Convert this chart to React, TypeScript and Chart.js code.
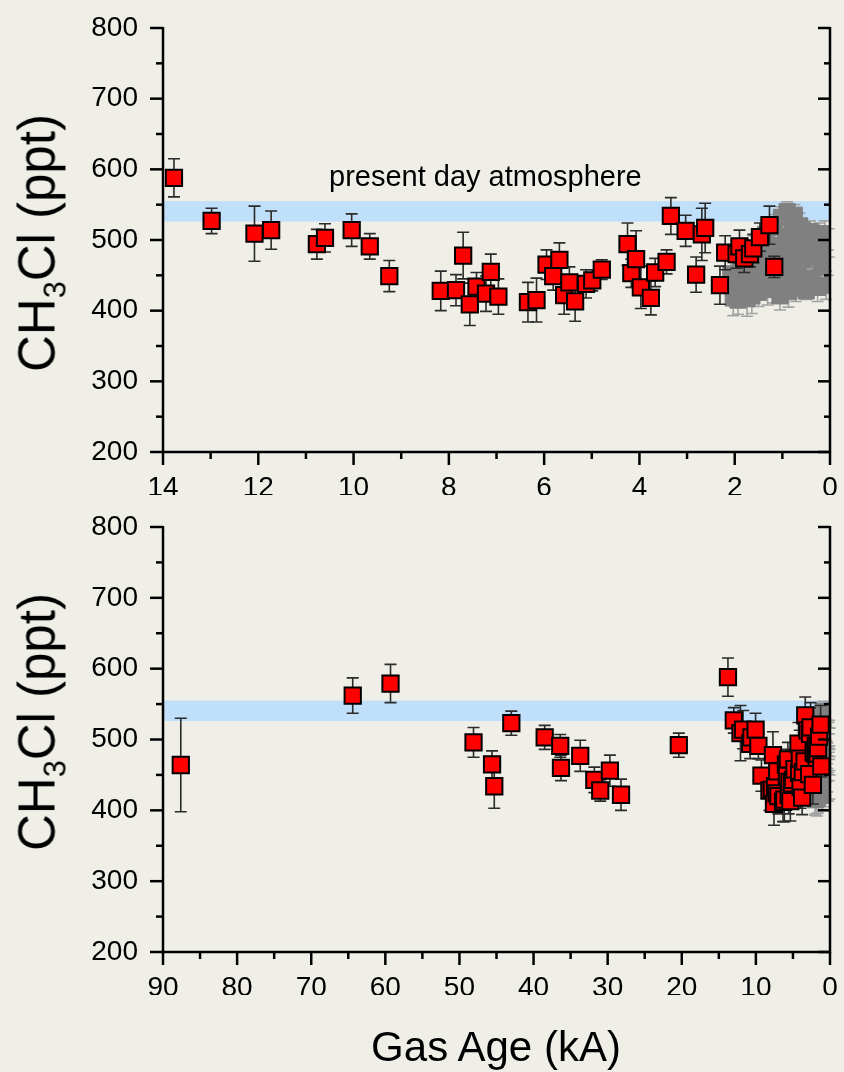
import React, { useEffect, useRef } from "react";
import { Chart, registerables } from "chart.js";

Chart.register(...registerables);

const FONT = '"Liberation Sans", Arial, Helvetica, sans-serif';
const BG = "#f0efe7";
const BAND_COLOR = "#c0dffa";

// Holocene samples (red), gas age in kA
const youngAge = [13.77, 12.98, 12.08, 11.73, 10.77, 10.6, 10.04, 9.66, 9.25, 8.17, 7.85, 7.7, 7.56, 7.42, 7.22, 7.12, 6.96, 6.34, 6.16, 5.95, 5.81, 5.68, 5.58, 5.47, 5.35, 5.12, 4.99, 4.79, 4.25, 4.17, 4.07, 3.97, 3.76, 3.67, 3.43, 3.34, 3.03, 2.81, 2.69, 2.62, 2.31, 2.2, 1.96, 1.9, 1.8, 1.68, 1.61, 1.47, 1.27, 1.17];
const youngCH3Cl = [588, 527, 509, 514, 494, 503, 514, 491, 449, 428, 429, 478, 409, 434, 424, 455, 420, 412, 415, 465, 449, 472, 422, 440, 413, 438, 443, 458, 494, 453, 473, 433, 418, 454, 469, 534, 513, 451, 508, 517, 436, 482, 480, 491, 474, 480, 488, 504, 521, 462];
const youngErr = [27, 18, 39, 27, 21, 20, 23, 18, 22, 28, 22, 33, 30, 20, 25, 25, 25, 28, 31, 21, 20, 24, 27, 22, 28, 20, 15, 14, 30, 20, 40, 30, 24, 20, 17, 26, 22, 25, 37, 35, 27, 24, 20, 23, 20, 18, 20, 20, 27, 15];

// Glacial samples (red)
const oldAge = [87.6, 64.4, 59.3, 48.1, 45.6, 43.0, 45.3, 38.5, 36.4, 36.3, 33.7, 31.8, 31.0, 29.7, 28.2, 20.4];
const oldCH3Cl = [464, 562, 579, 496, 465, 523, 434, 503, 491, 460, 477, 443, 428, 456, 422, 492];
const oldErr = [66, 25, 27, 21, 19, 17, 31, 17, 16, 18, 22, 18, 15, 22, 22, 17];

// Late Holocene samples (grey)
const grayAge = [2.08, 2.03, 1.99, 1.93, 1.88, 1.84, 1.79, 1.74, 1.7, 1.64, 1.61, 1.57, 1.55, 1.5, 1.46, 1.42, 1.4, 1.35, 1.31, 1.28, 1.24, 1.2, 1.16, 1.12, 1.1, 1.05, 1.02, 0.98, 0.96, 0.93, 0.9, 0.87, 0.84, 0.82, 0.79, 0.75, 0.72, 0.69, 0.66, 0.64, 0.6, 0.58, 0.55, 0.53, 0.5, 0.42, 0.38, 0.35, 0.31, 0.26, 0.22, 0.18, 0.15, 0.11, 0.08, 0.05, 0.03];
const grayCH3Cl = [452, 418, 440, 415, 462, 436, 447, 417, 470, 421, 486, 443, 466, 426, 452, 493, 474, 508, 430, 481, 457, 433, 518, 462, 492, 421, 532, 447, 476, 505, 540, 427, 484, 456, 518, 535, 433, 493, 462, 520, 441, 514, 472, 500, 428, 512, 446, 477, 497, 433, 506, 462, 490, 509, 436, 468, 496];
const grayErr = [22, 25, 20, 20, 40, 22, 20, 25, 18, 25, 20, 22, 18, 20, 22, 18, 20, 20, 22, 18, 20, 22, 18, 20, 18, 20, 15, 22, 18, 20, 14, 22, 18, 20, 18, 15, 20, 18, 22, 18, 20, 15, 18, 20, 12, 15, 20, 18, 20, 20, 18, 20, 18, 18, 20, 18, 20];

// present day atmosphere range (ppt)
const bandLow = 526;
const bandHigh = 555;

const yTickValues = [200, 300, 400, 500, 600, 700, 800];
const topXTickValues = [14, 12, 10, 8, 6, 4, 2, 0];
const bottomXTickValues = [90, 80, 70, 60, 50, 40, 30, 20, 10, 0];

type Pt = { x: number; y: number };

function toPoints(xs: number[], ys: number[]): Pt[] {
  return xs.map((x, i) => ({ x, y: ys[i] }));
}

function buildChart(
  canvas: HTMLCanvasElement,
  xMax: number,
  xTicks: number[],
  padTop: number
) {
  const redPts = toPoints([...youngAge, ...oldAge], [...youngCH3Cl, ...oldCH3Cl]);
  const redErr = [...youngErr, ...oldErr];
  const grayPts = toPoints(grayAge, grayCH3Cl);
  const errs = [redErr, grayErr];
  const errColors = ["#2b2b2b", "#a3a3a3"];
  const majorStep = Math.abs(xTicks[0] - xTicks[1]);

  const decor = {
    id: "decor",
    beforeDatasetsDraw(chart: any) {
      const { ctx, chartArea: a, scales } = chart;
      const y = scales.y;
      const yt = y.getPixelForValue(bandHigh);
      const yb = y.getPixelForValue(bandLow);
      ctx.save();
      ctx.fillStyle = BAND_COLOR;
      ctx.fillRect(a.left, yt, a.right - a.left, yb - yt);
      ctx.restore();
    },
    beforeDatasetDraw(chart: any, args: any) {
      const i = args.index;
      const { ctx, scales } = chart;
      const ds = chart.data.datasets[i];
      const e = errs[i];
      ctx.save();
      ctx.strokeStyle = errColors[i];
      ctx.lineWidth = 1.6;
      ds.data.forEach((p: Pt, j: number) => {
        const px = scales.x.getPixelForValue(p.x);
        const hi = scales.y.getPixelForValue(p.y + e[j]);
        const lo = scales.y.getPixelForValue(p.y - e[j]);
        ctx.beginPath();
        ctx.moveTo(px, hi);
        ctx.lineTo(px, lo);
        ctx.moveTo(px - 6, hi);
        ctx.lineTo(px + 6, hi);
        ctx.moveTo(px - 6, lo);
        ctx.lineTo(px + 6, lo);
        ctx.stroke();
      });
      ctx.restore();
    },
    afterDraw(chart: any) {
      const { ctx, chartArea: a, scales } = chart;
      const x = scales.x;
      const y = scales.y;
      ctx.save();
      ctx.strokeStyle = "#000";
      ctx.lineWidth = 2.5;
      ctx.lineCap = "butt";
      const line = (x1: number, y1: number, x2: number, y2: number) => {
        ctx.beginPath();
        ctx.moveTo(x1, y1);
        ctx.lineTo(x2, y2);
        ctx.stroke();
      };
      line(a.left, a.top - 1, a.left, a.bottom + 1);
      line(a.right, a.top - 1, a.right, a.bottom + 1);
      line(a.left, a.bottom, a.right + 1, a.bottom);
      for (let v = 200; v <= 800; v += 50) {
        const py = y.getPixelForValue(v);
        const major = v % 100 === 0;
        line(a.left - (major ? 13 : 7), py, a.left, py);
        line(a.right - (major ? 12 : 6), py, a.right, py);
      }
      for (let v = 0; v <= xMax; v += majorStep / 2) {
        const px = x.getPixelForValue(v);
        const major = Math.abs(v / majorStep - Math.round(v / majorStep)) < 1e-6;
        line(px, a.bottom, px, a.bottom + (major ? 13 : 7));
      }
      ctx.restore();
    },
  };

  return new Chart(canvas, {
    type: "scatter",
    data: {
      datasets: [
        {
          data: redPts,
          order: 0,
          pointStyle: "rect",
          pointRadius: 11.5,
          pointHoverRadius: 11.5,
          pointBackgroundColor: "#ff0000",
          pointBorderColor: "#000000",
          pointBorderWidth: 2,
          showLine: false,
        },
        {
          data: grayPts,
          order: 1,
          pointStyle: "rect",
          pointRadius: 11.5,
          pointHoverRadius: 11.5,
          pointBackgroundColor: "#808080",
          pointBorderColor: "#808080",
          pointBorderWidth: 1,
          showLine: false,
        },
      ],
    },
    options: {
      responsive: false,
      animation: false,
      events: [],
      layout: { padding: { top: padTop, right: 14, left: 0, bottom: 30 } },
      plugins: { legend: { display: false }, tooltip: { enabled: false } },
      scales: {
        x: {
          type: "linear",
          min: 0,
          max: xMax,
          reverse: true,
          afterBuildTicks: (s: any) => {
            s.ticks = xTicks.map((v) => ({ value: v }));
          },
          afterFit: (s: any) => {
            s.height = 43;
          },
          grid: { display: false, drawTicks: true, tickLength: 19 },
          border: { display: false },
          ticks: {
            font: { family: FONT, size: 28 },
            color: "#000",
            padding: 0,
            maxRotation: 0,
            autoSkip: false,
            callback: (v: any) => String(v),
          },
        },
        y: {
          type: "linear",
          min: 200,
          max: 800,
          afterBuildTicks: (s: any) => {
            s.ticks = yTickValues.map((v) => ({ value: v }));
          },
          afterFit: (s: any) => {
            s.width = 163;
          },
          grid: { display: false, drawTicks: true, tickLength: 25 },
          border: { display: false },
          ticks: {
            font: { family: FONT, size: 28 },
            color: "#000",
            padding: 0,
            autoSkip: false,
            callback: (v: any) => String(v),
          },
        },
      },
    } as any,
    plugins: [decor],
  });
}

const yTitleStyle = (cy: number): React.CSSProperties => ({
  position: "absolute",
  left: 37,
  top: cy,
  transform: "translate(-50%, -50%) rotate(-90deg)",
  whiteSpace: "nowrap",
  fontFamily: FONT,
  fontSize: 51,
  lineHeight: 1,
  color: "#000",
});

const subStyle: React.CSSProperties = {
  fontSize: "0.6em",
  verticalAlign: "-0.35em",
  lineHeight: 0,
};

export default function App() {
  const topRef = useRef<HTMLCanvasElement>(null);
  const botRef = useRef<HTMLCanvasElement>(null);

  useEffect(() => {
    document.body.style.margin = "0";
    document.body.style.background = BG;
    const c1 = buildChart(topRef.current!, 14, topXTickValues, 28);
    const c2 = buildChart(botRef.current!, 90, bottomXTickValues, 32);
    return () => {
      c1.destroy();
      c2.destroy();
    };
  }, []);

  return (
    <div style={{ position: "relative", width: 844, height: 1072, background: BG, overflow: "hidden" }}>
      <canvas ref={topRef} width={844} height={525} style={{ position: "absolute", left: 0, top: 0 }} />
      <canvas ref={botRef} width={844} height={530} style={{ position: "absolute", left: 0, top: 495 }} />
      <div style={yTitleStyle(243)}>
        CH<sub style={subStyle}>3</sub>Cl (ppt)
      </div>
      <div style={yTitleStyle(722)}>
        CH<sub style={subStyle}>3</sub>Cl (ppt)
      </div>
      <div
        style={{
          position: "absolute",
          left: 329,
          top: 162,
          fontFamily: FONT,
          fontSize: 29,
          lineHeight: 1,
          whiteSpace: "nowrap",
          color: "#000",
        }}
      >
        present day atmosphere
      </div>
      <div
        style={{
          position: "absolute",
          left: 496,
          top: 1026,
          transform: "translateX(-50%)",
          fontFamily: FONT,
          fontSize: 42,
          lineHeight: 1,
          whiteSpace: "nowrap",
          color: "#000",
        }}
      >
        Gas Age (kA)
      </div>
    </div>
  );
}
